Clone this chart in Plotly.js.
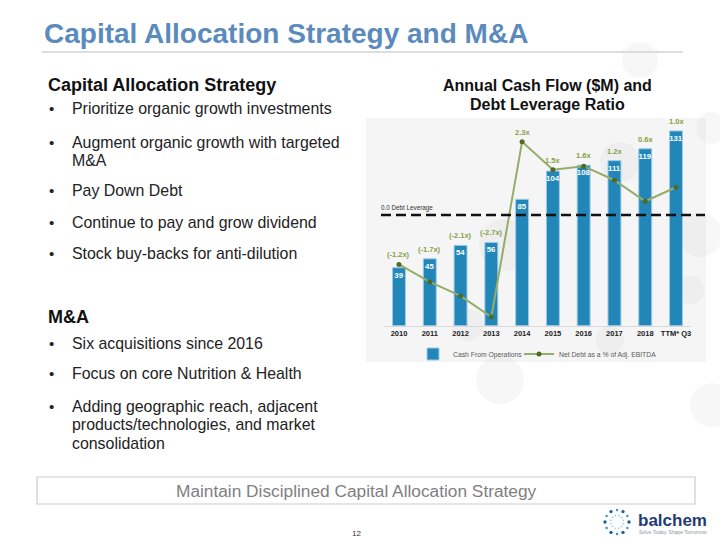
<!DOCTYPE html>
<html>
<head>
<meta charset="utf-8">
<script src="https://cdn.plot.ly/plotly-3.0.1.min.js"></script>
<style>html,body{margin:0;padding:0;background:#fff;overflow:hidden;}#chart{width:720px;height:540px;overflow:hidden;}</style>
</head>
<body>
<div id="chart"></div>
<script>
// ---- data ----
var years = ["2010","2011","2012","2013","2014","2015","2016","2017","2018","TTM* Q3"];
var cashFlow = [39, 45, 54, 56, 85, 104, 108, 111, 119, 131];
var leverage = [-1.2, -1.7, -2.1, -2.7, 2.3, 1.5, 1.6, 1.2, 0.6, 1.0];
var seriesNames = ["Cash From Operations", "Net Debt as a % of Adj. EBITDA"];
var chartTitleLines = ["Annual Cash Flow ($M) and", "Debt Leverage Ratio"];
var slideTitle = "Capital Allocation Strategy and M&A";
var section1 = "Capital Allocation Strategy";
var bullets1 = [["Prioritize organic growth investments"],["Augment organic growth with targeted","M&A"],["Pay Down Debt"],["Continue to pay and grow dividend"],["Stock buy-backs for anti-dilution"]];
var section2 = "M&A";
var bullets2 = [["Six acquisitions since 2016"],["Focus on core Nutrition & Health"],["Adding geographic reach, adjacent","products/technologies, and market","consolidation"]];
var footerText = "Maintain Disciplined Capital Allocation Strategy";
var pageNum = "12";
var zeroLineLabel = "0.0 Debt Leverage";
var logoName = "balchem";
var logoTagline = "Solve Today. Shape Tomorrow.";

// ---- helpers (pixel -> paper) ----
var W = 720, H = 540;
function px(x){ return x / W; }
function py(y){ return 1 - y / H; }

var FONT = "Liberation Sans, Arial, sans-serif";
var NARROW = "Liberation Sans Narrow, Arial Narrow, Liberation Sans, Arial, sans-serif";

var yRange = [0, 139.7];
var y2Range = [-2.949, 2.975];

var annotations = [];
var shapes = [];

// slide title
annotations.push({xref:'paper', yref:'paper', x:px(42), y:py(33), xanchor:'left', yanchor:'middle', showarrow:false,
  text:'<b>'+slideTitle+'</b>', font:{family:FONT, size:28, color:'#5b8bbd'}});
shapes.push({type:'line', xref:'paper', yref:'paper', x0:px(42), x1:px(683), y0:py(52), y1:py(52), line:{color:'#dddddd', width:2}});

// left text
annotations.push({xref:'paper', yref:'paper', x:px(46), y:py(85), xanchor:'left', yanchor:'middle', showarrow:false,
  text:'<b>'+section1+'</b>', font:{family:FONT, size:18, color:'#111'}});
var b1y = [109, 142, 191, 222, 254];
bullets1.forEach(function(lines, i){
  annotations.push({xref:'paper', yref:'paper', x:px(47), y:py(b1y[i]), xanchor:'left', yanchor:'middle', showarrow:false,
    text:'•', font:{family:FONT, size:15, color:'#222'}});
  lines.forEach(function(t, j){
    annotations.push({xref:'paper', yref:'paper', x:px(69.5), y:py(b1y[i] + j*18.5), xanchor:'left', yanchor:'middle', showarrow:false,
      text:t, font:{family:FONT, size:15.9, color:'#222'}});
  });
});
annotations.push({xref:'paper', yref:'paper', x:px(46), y:py(317), xanchor:'left', yanchor:'middle', showarrow:false,
  text:'<b>'+section2+'</b>', font:{family:FONT, size:18, color:'#111'}});
var b2y = [343, 374, 406];
bullets2.forEach(function(lines, i){
  annotations.push({xref:'paper', yref:'paper', x:px(47), y:py(b2y[i]), xanchor:'left', yanchor:'middle', showarrow:false,
    text:'•', font:{family:FONT, size:15, color:'#222'}});
  lines.forEach(function(t, j){
    annotations.push({xref:'paper', yref:'paper', x:px(69.5), y:py(b2y[i] + j*18.5), xanchor:'left', yanchor:'middle', showarrow:false,
      text:t, font:{family:FONT, size:15.9, color:'#222'}});
  });
});

// chart title
chartTitleLines.forEach(function(t, j){
  annotations.push({xref:'paper', yref:'paper', x:px(547), y:py(86 + j*18.5), xanchor:'center', yanchor:'middle', showarrow:false,
    text:'<b>'+t+'</b>', font:{family:FONT, size:16, color:'#111'}});
});

// chart background panel
shapes.push({type:'rect', xref:'paper', yref:'paper', x0:px(366), x1:px(706), y0:py(118), y1:py(362), fillcolor:'#f5f5f5', line:{width:0}, layer:'below'});
// faint decorative circles
[[505,245,26],[700,235,22],[712,405,22],[712,128,16],[690,290,14],[610,340,14],[468,325,16],[620,162,20],[500,380,24],[640,60,18]].forEach(function(c){
  shapes.push({type:'circle', xref:'paper', yref:'paper', x0:px(c[0]-c[2]), x1:px(c[0]+c[2]), y0:py(c[1]+c[2]), y1:py(c[1]-c[2]),
    fillcolor:'rgba(200,200,200,0.14)', line:{width:0}, layer:'below'});
});

// zero debt leverage dashed line
shapes.push({type:'line', xref:'paper', yref:'paper', x0:px(381), x1:px(705), y0:py(215), y1:py(215),
  line:{color:'#111', width:2.5, dash:'10px,5px'}});
annotations.push({xref:'paper', yref:'paper', x:px(379), y:py(208), xanchor:'left', yanchor:'middle', showarrow:false,
  text:zeroLineLabel, font:{family:NARROW, size:6.3, color:'#333'}});

// leverage labels
function levLabel(v){ return v < 0 ? '(' + v.toFixed(1) + 'x)' : v.toFixed(1) + 'x'; }
years.forEach(function(yr, i){
  var v = leverage[i];
  var vInY = (v - y2Range[0]) / (y2Range[1] - y2Range[0]) * (yRange[1] - yRange[0]) + yRange[0];
  var anchor = Math.max(cashFlow[i], vInY);
  annotations.push({xref:'x', yref:'y', x:i, y:anchor, xanchor:'center', yanchor:'bottom', yshift:3, showarrow:false,
    text:'<b>'+levLabel(v)+'</b>', font:{family:NARROW, size:7.5, color:'#84a04a'}});
});

// footer box
shapes.push({type:'rect', xref:'paper', yref:'paper', x0:px(37), x1:px(695), y0:py(504), y1:py(477), line:{color:'#cccccc', width:1.2}, fillcolor:'rgba(0,0,0,0)'});
annotations.push({xref:'paper', yref:'paper', x:px(356), y:py(491), xanchor:'center', yanchor:'middle', showarrow:false,
  text:footerText, font:{family:FONT, size:17.3, color:'#7f7f7f'}});
annotations.push({xref:'paper', yref:'paper', x:px(356), y:py(533), xanchor:'center', yanchor:'middle', showarrow:false,
  text:pageNum, font:{family:FONT, size:8, color:'#333'}});

// logo
annotations.push({xref:'paper', yref:'paper', x:px(636), y:py(520), xanchor:'left', yanchor:'middle', showarrow:false,
  text:'<b>'+logoName+'</b>', font:{family:FONT, size:17, color:'#1f3d72'}});
annotations.push({xref:'paper', yref:'paper', x:px(637), y:py(531.5), xanchor:'left', yanchor:'middle', showarrow:false,
  text:logoTagline, font:{family:FONT, size:5, color:'#8a96a8'}});
for (var k = 0; k < 12; k++) {
  var a = k * Math.PI / 6;
  var cx = 617 + 12 * Math.cos(a), cy = 522 + 12 * Math.sin(a);
  var r = (k % 2 === 0) ? 1.7 : 1.2;
  shapes.push({type:'circle', xref:'paper', yref:'paper', x0:px(cx-r), x1:px(cx+r), y0:py(cy+r), y1:py(cy-r),
    fillcolor: (k % 2 === 0) ? '#1f5f9e' : '#3d8fcc', line:{width:0}});
  var cx2 = 617 + 6.5 * Math.cos(a + 0.26), cy2 = 522 + 6.5 * Math.sin(a + 0.26);
  shapes.push({type:'circle', xref:'paper', yref:'paper', x0:px(cx2-0.9), x1:px(cx2+0.9), y0:py(cy2+0.9), y1:py(cy2-0.9),
    fillcolor:'#9fd0ee', line:{width:0}});
}

var traces = [
  {type:'bar', name:seriesNames[0], x:years, y:cashFlow, yaxis:'y', legend:'legend',
   marker:{color:'#2286b9', line:{color:'#9ccbe6', width:1}},
   texttemplate:'<b>%{y}</b>', textposition:'inside', insidetextanchor:'end', constraintext:'none', textangle:0,
   textfont:{family:NARROW, size:7.8, color:'#ffffff'}, hoverinfo:'skip'},
  {type:'scatter', mode:'lines+markers', name:seriesNames[1], x:years, y:leverage, yaxis:'y2', legend:'legend2',
   line:{color:'#94ad6a', width:2}, marker:{color:'#4d6a26', size:5}, hoverinfo:'skip'}
];

var legendCommon = {orientation:'h', yanchor:'middle', bgcolor:'rgba(0,0,0,0)',
  font:{family:NARROW, size:6.8, color:'#595959'}, itemwidth:30};

var layout = {
  width: W, height: H,
  margin:{l:0, r:0, t:0, b:0},
  paper_bgcolor:'#ffffff', plot_bgcolor:'rgba(0,0,0,0)',
  showlegend:true,
  legend:Object.assign({}, legendCommon, {x:px(413), y:py(354), xanchor:'left'}),
  legend2:Object.assign({}, legendCommon, {x:px(519), y:py(354), xanchor:'left'}),
  bargap:0.58,
  xaxis:{domain:[px(383.6), px(691.4)], range:[-0.5, 9.5], autorange:false, anchor:'y', type:'category', showgrid:false, zeroline:false,
    showline:true, linecolor:'#d9d9d9', linewidth:1, ticks:'',
    tickfont:{family:NARROW, size:7.5, color:'#222'}, tickprefix:'<b>', ticksuffix:'</b>'},
  yaxis:{domain:[py(325.7), py(118)], range:yRange, autorange:false, visible:false, showgrid:false, zeroline:false},
  yaxis2:{range:y2Range, autorange:false, overlaying:'y', side:'right', visible:false, showgrid:false, zeroline:false},
  annotations: annotations,
  shapes: shapes
};

Plotly.newPlot('chart', traces, layout, {staticPlot:true, displayModeBar:false});
</script>
</body>
</html>
